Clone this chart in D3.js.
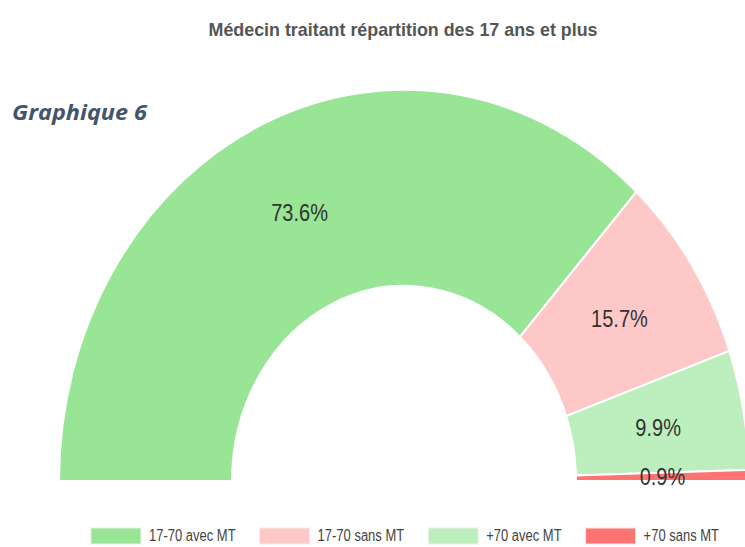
<!DOCTYPE html>
<html lang="fr">
<head>
  <meta charset="UTF-8">
  <title>Médecin traitant</title>
  <script src="https://d3js.org/d3.v7.min.js"></script>
  <style>
    body { margin: 0; overflow: hidden; background: #fff; }
    text { font-family: 'Liberation Sans', Arial, sans-serif; }
  </style>
</head>
<body>
<div id="chart"></div>
<script>
    // data
    const categories = ["17-70 avec MT", "17-70 sans MT", "+70 avec MT", "+70 sans MT"];
    const values = [73.6, 15.7, 9.9, 0.9];
    const colors = ["#98e596", "#ffc8c8", "#bdeebd", "#ff7373"];

    const width = 745, height = 547;
    const cx = 404, cy = 481;
    const outerR = 345, innerR = 172;
    const stretch = 1.134; // source picture is squashed horizontally

    const svg = d3.select("#chart")
        .append("svg")
        .attr("width", width)
        .attr("height", height);

    // title
    svg.append("text")
        .attr("transform", `translate(403, 36) scale(1, 1.2)`)
        .attr("text-anchor", "middle")
        .attr("textLength", 389)
        .attr("lengthAdjust", "spacingAndGlyphs")
        .style("font-size", "15px")
        .style("font-weight", "bold")
        .style("fill", "#555")
        .text("Médecin traitant répartition des 17 ans et plus");

    svg.append("text")
        .attr("x", 12)
        .attr("y", 120)
        .attr("textLength", 135)
        .attr("lengthAdjust", "spacingAndGlyphs")
        .style("font-family", "'Open Sans', sans-serif")
        .style("font-size", "21px")
        .style("font-weight", "bold")
        .style("font-style", "italic")
        .style("fill", "#44546a")
        .text("Graphique 6");

    const data = categories.map((c, i) => ({ cat: c, value: values[i], color: colors[i] }));

    const pie = d3.pie()
        .sort(null)
        .value(d => d.value)
        .startAngle(-Math.PI / 2)
        .endAngle(Math.PI / 2);

    const arc = d3.arc()
        .innerRadius(innerR)
        .outerRadius(outerR);

    const arcs = pie(data);

    // half donut
    svg.append("g")
        .attr("transform", `translate(${cx}, ${cy}) scale(1, ${stretch})`)
        .selectAll("path")
        .data(arcs)
        .enter()
        .append("path")
        .attr("d", arc)
        .style("fill", d => d.data.color)
        .style("stroke", "#fff")
        .style("stroke-width", 2)
        .attr("vector-effect", "non-scaling-stroke");

    // labels
    svg.append("g")
        .selectAll("text")
        .data(arcs)
        .enter()
        .append("text")
        .attr("transform", function (d) {
            const c = arc.centroid(d);
            return `translate(${cx + c[0]}, ${cy + c[1] * stretch}) scale(1, 1.15)`;
        })
        .attr("text-anchor", "middle")
        .attr("dy", "0.36em")
        .style("font-size", "20px")
        .style("fill", "#333")
        .text(d => d.data.value.toFixed(1) + "%");

    // legend
    const legend = svg.append("g");
    const rectW = 50, rectH = 16, gap = 8, itemGap = 24;

    const items = legend.selectAll("g")
        .data(data)
        .enter()
        .append("g");

    items.append("rect")
        .attr("width", rectW)
        .attr("height", rectH)
        .style("fill", d => d.color)
        .style("stroke", "#eee")
        .style("stroke-width", 1);

    items.append("text")
        .attr("transform", `translate(${rectW + gap}, ${rectH / 2}) scale(1, 1.2)`)
        .attr("dy", "0.35em")
        .style("font-size", "13px")
        .style("fill", "#444")
        .text(d => d.cat);

    let widths = [];
    items.each(function () {
        const t = d3.select(this).select("text").node().getComputedTextLength();
        widths.push(rectW + gap + t);
    });
    const total = d3.sum(widths) + itemGap * (widths.length - 1);
    let xPos = 405 - total / 2;
    items.attr("transform", function (d, i) {
        const tr = `translate(${xPos}, 528)`;
        xPos += widths[i] + itemGap;
        return tr;
    });
</script>
</body>
</html>
